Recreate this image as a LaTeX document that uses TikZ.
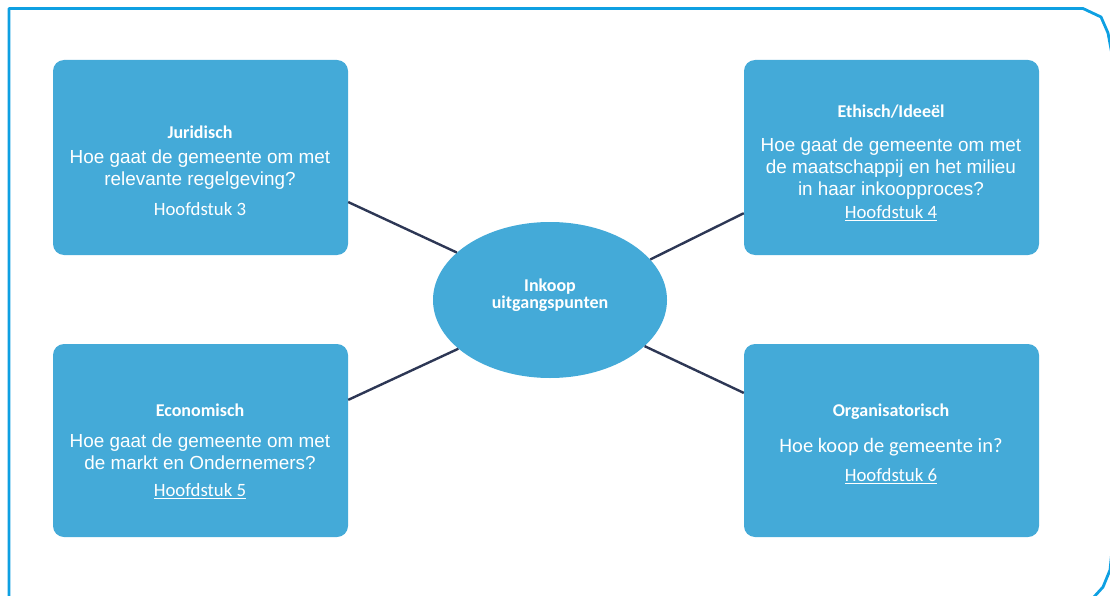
\documentclass[tikz,border=0pt]{standalone}
\usepackage{fontspec}
\setmainfont{Liberation Sans}
\newfontfamily\calfont{Carlito}
\usetikzlibrary{shapes.geometric,calc}
\definecolor{boxblue}{RGB}{68,170,216}
\definecolor{framecol}{RGB}{14,160,226}
\definecolor{linecol}{RGB}{45,55,85}
\tikzset{
  panel/.style={fill=boxblue, rounded corners=11pt, inner sep=0pt, minimum width=295pt, minimum height=195pt},
  hub/.style={ellipse, fill=boxblue, inner sep=0pt, minimum width=234pt, minimum height=156pt},
  title/.style={text=white, font=\calfont\bfseries\fontsize{18}{17}\selectfont, inner sep=0pt, align=center},
  body/.style={text=white, font=\fontsize{18.9}{22}\selectfont, inner sep=0pt, align=center},
  bodycal/.style={text=white, font=\calfont\fontsize{20.5}{22}\selectfont, inner sep=0pt, align=center},
  chap/.style={text=white, font=\calfont\fontsize{18.8}{20}\selectfont, inner sep=0pt},
  link/.style={draw=linecol, line width=2.4pt},
  frameline/.style={draw=framecol, line width=2.8pt, line join=round},
}
\begin{document}
\begin{tikzpicture}[x=1pt,y=-1pt]
\useasboundingbox (0,0) rectangle (1110,596);
\begin{scope}
\clip (0,0) rectangle (1110,596);
\draw[frameline] (9,610) -- (9,8.5) -- (1083,8.5) -- (1101,17) -- (1108,33) -- (1113,60) -- (1113,540) -- (1110,570) -- (1103,587) -- (1093,598);
\end{scope}

% panels
\node[panel, minimum height=195pt] (tl) at (200.5,157.5) {};
\node[panel, minimum height=195pt] (tr) at (891.5,157.5) {};
\node[panel, minimum height=193pt] (bl) at (200.5,440.5) {};
\node[panel, minimum height=193pt] (br) at (891.5,440.5) {};

% hub
\node[hub] (el) at (550,300) {};
\node[title] (eltext) at (550,295) {Inkoop\\uitgangspunten};

% connector end points on panel edges
\coordinate (tlp) at ($(tl.north east)!0.728!(tl.south east)$);
\coordinate (trp) at ($(tr.north west)!0.785!(tr.south west)$);
\coordinate (blp) at ($(bl.north east)!0.29!(bl.south east)$);
\coordinate (brp) at ($(br.north west)!0.254!(br.south west)$);

\draw[link] (el.153.7) -- (tlp);
\draw[link] (el.22.8) -- (trp);
\draw[link] (el.208) -- (blp);
\draw[link] (el.334.2) -- (brp);

% texts top left
\node[title] (t1) at (200,132) {Juridisch};
\node[body] (b1) at (200,170) {Hoe gaat de gemeente om met\\relevante regelgeving?};
\node[chap] (c1) at (200,209) {Hoofdstuk 3};

% texts top right
\node[title] (t2) at (891,112) {Ethisch/Ideeël};
\node[body] (b2) at (891,169) {Hoe gaat de gemeente om met\\de maatschappij en het milieu\\in haar inkoopproces?};
\node[chap] (c2) at (891,213) {\underline{Hoofdstuk 4}};

% texts bottom left
\node[title] (t3) at (200,410) {Economisch};
\node[body] (b3) at (200,451.5) {Hoe gaat de gemeente om met\\de markt en Ondernemers?};
\node[chap] (c3) at (200,491) {\underline{Hoofdstuk 5}};

% texts bottom right
\node[title] (t4) at (891,412) {Organisatorisch};
\node[bodycal] (b4) at (891,447.5) {Hoe koop de gemeente in?};
\node[chap] (c4) at (891,476) {\underline{Hoofdstuk 6}};
\end{tikzpicture}
\end{document}
